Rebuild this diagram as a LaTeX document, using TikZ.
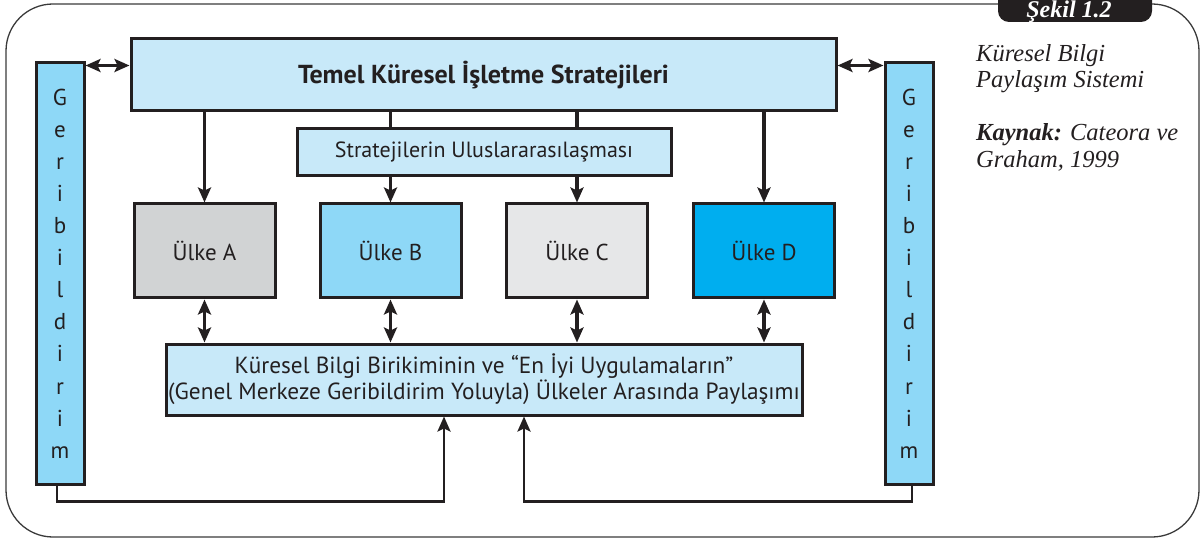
\documentclass[tikz,border=0pt]{standalone}
\usepackage{fontspec}
\setmainfont{PT Sans}
\newfontfamily\notefont{Liberation Serif}
\usetikzlibrary{arrows.meta,calc}

\definecolor{ink}{HTML}{231F20}
\definecolor{frame}{HTML}{3A3A3A}
\definecolor{paleblue}{HTML}{C8E9F9}
\definecolor{barblue}{HTML}{8ED8F7}
\definecolor{greyA}{HTML}{D1D3D4}
\definecolor{greyC}{HTML}{E6E7E8}
\definecolor{cyanD}{HTML}{00AEEF}

\tikzset{
  box/.style={draw=ink, line width=3pt, inner sep=0pt, align=center, text=ink},
  palebox/.style={box, fill=paleblue},
  country/.style={box, minimum width=141pt, minimum height=94pt,
    font=\fontsize{23}{27}\selectfont},
  barbox/.style={box, fill=barblue, minimum width=48pt, minimum height=421pt,
    font=\fontsize{23}{32.1}\selectfont},
  tip/.tip={Stealth[length=15pt,width=13pt,inset=3pt]},
  arr/.style={draw=ink, line width=3.2pt, -tip},
  darr/.style={draw=ink, line width=3.2pt, tip-tip},
  link/.style={draw=ink, line width=3.2pt},
  fb/.style={draw=ink, line width=2.6pt, -tip},
  note/.style={anchor=base west, inner sep=0pt, text=ink,
    font=\notefont\itshape\fontsize{24.5}{28}\selectfont},
}

\begin{document}
\begin{tikzpicture}[x=1pt,y=1pt]
\useasboundingbox (0,0) rectangle (1203,-540);

% outer frame and caption tab
\draw[frame, line width=1.3pt, rounded corners=47pt] (6,-4) rectangle (1199,-537);
\begin{scope}
  \clip (0,0) rectangle (1203,-540);
  \fill[ink, rounded corners=11pt] (998,-22) rectangle (1152,14);
\end{scope}
\node (tab) [anchor=base, inner sep=0pt, text=white,
  font=\notefont\bfseries\itshape\fontsize{24}{26}\selectfont] at (1069,-18) {Şekil 1.2};

% side notes
\node (n1) [note] at (976,-62) {Küresel Bilgi};
\node (n2) [note] at (976,-88) {Paylaşım Sistemi};
\node (n3) [note] at (976,-141) {\textbf{Kaynak:} Cateora ve};
\node (n4) [note] at (976,-168) {Graham, 1999};

% main boxes
\node (temel) [palebox, minimum width=705pt, minimum height=72pt,
  font=\bfseries\fontsize{26}{30}\selectfont] at (483.5,-75)
  {Temel Küresel İşletme Stratejileri};
\node (strat) [palebox, minimum width=374pt, minimum height=47pt,
  font=\fontsize{22}{26}\selectfont] at (484,-152.5)
  {Stratejilerin Uluslararasılaşması};

\node (ua) [country, fill=greyA] at (204.5,-251) {Ülke A};
\node (ub) [country, fill=barblue] at (390.5,-251) {Ülke B};
\node (uc) [country, fill=greyC] at (577,-251) {Ülke C};
\node (ud) [country, fill=cyanD] at (764,-251) {Ülke D};

\node (kb) [palebox, minimum width=636pt, minimum height=71pt,
  font=\fontsize{23.3}{26}\selectfont] at (484,-379.5)
  {Küresel Bilgi Birikiminin ve “En İyi Uygulamaların”\\
   (Genel Merkeze Geribildirim Yoluyla) Ülkeler Arasında Paylaşımı};

% feedback bars
\node (lbar) [barbox] at (60,-273.5) {G\\e\\r\\i\\b\\i\\l\\d\\i\\r\\i\\m};
\node (rbar) [barbox] at (909,-273.5) {G\\e\\r\\i\\b\\i\\l\\d\\i\\r\\i\\m};

% strategy flow
\draw[arr] (temel.south -| ua.north) -- (ua.north);
\draw[link] (temel.south -| ub.north) -- (strat.north -| ub.north);
\draw[arr] (strat.south -| ub.north) -- (ub.north);
\draw[link] (temel.south -| uc.north) -- (strat.north -| uc.north);
\draw[arr] (strat.south -| uc.north) -- (uc.north);
\draw[arr] (temel.south -| ud.north) -- (ud.north);

% country exchange
\foreach \u in {ua,ub,uc,ud}
  \draw[darr] (\u.south) -- (\u.south |- kb.north);

% bars to top box
\coordinate (lh) at ([yshift=-4pt]lbar.north east);
\coordinate (rh) at ([yshift=-4pt]rbar.north west);
\draw[darr] (lh) -- (lh -| temel.west);
\draw[darr] (rh) -- (rh -| temel.east);

% feedback loops
\draw[fb] ([xshift=-3pt]lbar.south) -- ++(0,-16) -| ([xshift=-40pt]kb.south);
\draw[fb] ([xshift=3pt]rbar.south) -- ++(0,-16) -| ([xshift=40pt]kb.south);
\end{tikzpicture}
\end{document}
